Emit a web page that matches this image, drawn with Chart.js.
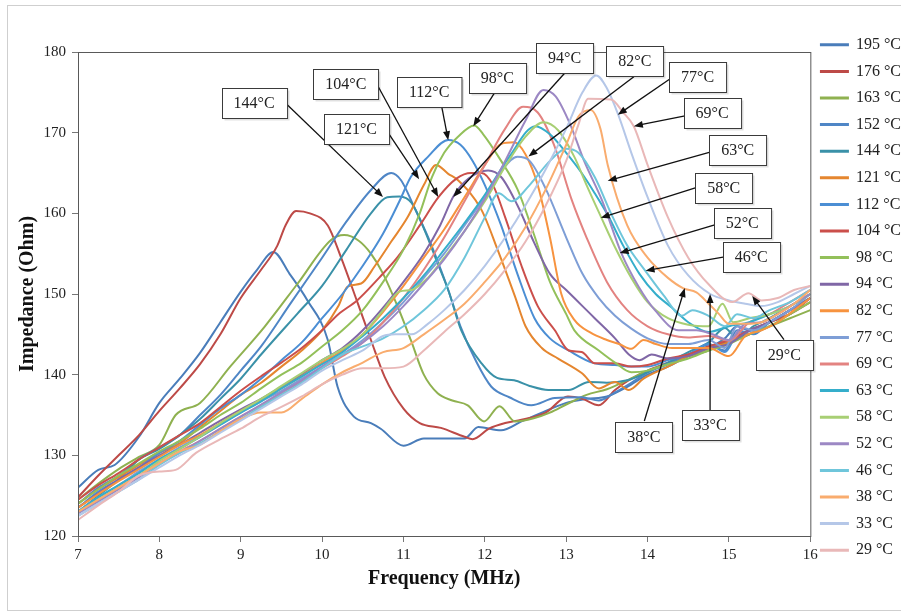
<!DOCTYPE html>
<html>
<head>
  <title>Impedance vs Frequency</title>
  <script src="https://cdn.jsdelivr.net/npm/chart.js"></script>
  <style>
    body { margin: 0; overflow: hidden; background: #fff; }
    #frame { position: absolute; left: 7px; top: 5px; width: 1000px; height: 604px; border: 1px solid #cfcfcf; }
    #wrap { position: absolute; left: 0; top: 0; width: 915px; height: 615px; }
  </style>
</head>
<body>
  <div id="frame"></div>
  <div id="wrap"><canvas id="myChart"></canvas></div>

  <script>
    // series names (legend order)
    var temps = ['195 °C', '176 °C', '163 °C', '152 °C', '144 °C', '121 °C', '112 °C', '104 °C', '98 °C', '94 °C',
                 '82 °C', '77 °C', '69 °C', '63 °C', '58 °C', '52 °C', '46 °C', '38 °C', '33 °C', '29 °C'];

    // each series: [frequency MHz, impedance Ohm]
    var s195 = [[7,126],[7.25,128.2],[7.45,128.8],[7.75,132.3],[8,136.5],[8.25,139.5],[8.5,142.7],[8.75,146.5],[9,150.3],[9.2,153],[9.4,155.2],[9.6,152.5],[9.82,149.2],[10.07,144.3],[10.19,138.5],[10.39,134.8],[10.6,134],[10.72,133.3],[11,131.2],[11.25,132.1],[11.5,132.1],[11.75,132.1],[11.92,133.5],[12.2,133.1],[12.45,134.2],[12.75,135.5],[13,136.5],[13.25,137],[13.5,137.3],[13.75,138.5],[14,140],[14.25,141],[14.5,142.3],[14.75,143.3],[14.95,144.5],[15.1,146],[15.25,145.5],[15.5,146.5],[15.75,148],[16,149.5]];
    var s176 = [[7,124.8],[7.25,127.5],[7.5,130],[7.75,132.5],[8,135.5],[8.25,138.3],[8.5,141.3],[8.75,145],[9,149.5],[9.25,153],[9.45,156],[9.55,158.5],[9.68,160.3],[9.85,160],[10.07,158.5],[10.23,154.6],[10.44,148.8],[10.6,144.3],[10.77,139.7],[11,135.8],[11.2,134],[11.46,133.4],[11.75,132.3],[11.85,132],[12.05,133.3],[12.25,134],[12.45,134.4],[12.75,135.3],[13.02,137.3],[13.2,137],[13.4,136.2],[13.6,138.1],[13.8,139.5],[14,140.5],[14.25,141.5],[14.5,142.5],[14.75,143.5],[15,144],[15.25,145],[15.5,146.5],[15.75,147.5],[16,149]];
    var s163 = [[7,124.5],[7.25,126.5],[7.5,128.3],[7.75,129.8],[8,131.3],[8.2,135],[8.5,136.5],[8.87,141],[9.29,145.9],[9.7,151.3],[10.11,156.7],[10.27,157.3],[10.45,156.6],[10.6,155],[10.75,152.5],[10.93,148.4],[11.09,144.3],[11.25,140],[11.42,137.7],[11.6,136.8],[11.79,136.2],[11.99,134.2],[12.18,136.1],[12.37,134.2],[12.6,134.6],[12.8,135.3],[13,136.3],[13.25,137.5],[13.5,138.2],[13.75,139.3],[14,140.5],[14.25,141.3],[14.5,142.3],[14.75,143],[15,144.3],[15.25,145],[15.5,146],[15.75,147],[16,148]];
    var s152 = [[7,124],[7.25,126],[7.5,127.5],[7.75,129.5],[8,131],[8.25,132.5],[8.5,135],[8.75,137.5],[9,140.5],[9.25,143.5],[9.61,148.8],[10,154.5],[10.3,159],[10.6,162.9],[10.85,165],[10.97,164.1],[11.13,160.8],[11.3,157.1],[11.46,153],[11.55,150.5],[11.7,146],[11.9,141.5],[12.08,138.5],[12.3,137.2],[12.57,136.2],[12.86,137.1],[13.19,137.2],[13.4,136.8],[13.6,137.8],[13.8,139],[14,140.3],[14.25,141.3],[14.5,142.5],[14.75,143.7],[14.95,143],[15.1,145.5],[15.3,145],[15.5,146.5],[15.75,148],[16,149.5]];
    var s144 = [[7,123],[7.25,125],[7.5,127],[7.75,129.5],[8,130.8],[8.25,132.5],[8.5,134.5],[8.75,137],[9,139.5],[9.25,142.5],[9.7,147.6],[10,151],[10.3,155.5],[10.6,160],[10.8,162],[10.95,162.1],[11.1,161.3],[11.26,157.9],[11.42,153.8],[11.55,150.5],[11.71,145.5],[11.96,141.4],[12.15,139.6],[12.36,139.3],[12.55,138.6],[12.78,138.1],[13.03,138.1],[13.28,139.1],[13.5,139],[13.75,139.3],[14,140.3],[14.25,141.5],[14.5,142.8],[14.75,144],[14.95,145.8],[15.1,144.5],[15.3,146],[15.5,147],[15.75,148.5],[16,150]];
    var s121 = [[7,124],[7.25,125.8],[7.5,127.3],[7.75,128.8],[8,130.3],[8.25,131.5],[8.5,133.5],[8.75,135.5],[9,137.5],[9.25,139],[9.5,141],[9.75,143],[10,145.5],[10.2,148.5],[10.31,150.9],[10.48,151.3],[10.65,153.5],[10.85,156.5],[11.05,159.5],[11.25,163.5],[11.4,166],[11.55,164.9],[11.67,164.1],[11.96,160.4],[12.16,155.4],[12.37,149.7],[12.5,146],[12.7,143.3],[12.9,142],[13.19,140.2],[13.4,138.3],[13.6,139.1],[13.77,138.1],[13.95,139.5],[14.25,141],[14.5,142.3],[14.75,143.3],[15,144],[15.25,145.5],[15.5,146.5],[15.75,148],[16,149.5]];
    var s112 = [[7,123.5],[7.25,125.5],[7.5,127],[7.75,128.5],[8,130.3],[8.25,131.8],[8.5,133.8],[8.75,135.8],[9,137.5],[9.25,139.5],[9.5,141.8],[9.75,144],[10,147],[10.25,150],[10.5,153.5],[10.75,157.5],[10.95,161.5],[11.09,164.5],[11.3,167],[11.55,169.1],[11.7,168.5],[11.85,166.5],[12,163.5],[12.2,158.5],[12.4,152.5],[12.61,147],[12.8,144.5],[13.03,143],[13.35,141.4],[13.6,141.2],[13.8,141],[14,141],[14.25,141.8],[14.5,142.5],[14.75,143.8],[14.95,142.8],[15.1,145],[15.3,145.5],[15.5,146.5],[15.75,148],[16,149.5]];
    var s104 = [[7,124.5],[7.25,126.3],[7.5,127.8],[7.75,129.5],[8,131],[8.25,132.5],[8.5,134],[8.75,136],[9,138],[9.25,139.8],[9.5,141.5],[9.75,143.3],[10,145.5],[10.2,147.5],[10.43,149.2],[10.7,152],[10.93,154.6],[11.2,158.5],[11.43,162],[11.65,164.3],[11.83,165],[11.96,165],[12.1,163.5],[12.25,159.5],[12.45,153.5],[12.65,148.5],[12.86,145.5],[13.03,143],[13.19,142.8],[13.35,141.4],[13.6,141.4],[13.8,141],[14,141.2],[14.25,142],[14.5,142.5],[14.75,143.5],[15,144.3],[15.25,145.5],[15.5,146.5],[15.75,147.5],[16,149.5]];
    var s98 = [[7,124],[7.25,125.8],[7.5,127.5],[7.75,129],[8,130.5],[8.25,131.8],[8.5,133.3],[8.75,135],[9,136.5],[9.25,138.3],[9.5,140],[9.75,141.5],[10,143.5],[10.25,145.5],[10.5,148],[10.75,151.5],[11,155.5],[11.2,160],[11.35,164.5],[11.5,167.5],[11.67,169.5],[11.87,170.9],[11.98,169.8],[12.2,166.5],[12.4,163],[12.6,157.5],[12.8,151.5],[13,147.5],[13.1,145.5],[13.4,143],[13.6,141.5],[13.8,140.3],[14,140.5],[14.25,141.3],[14.5,142],[14.75,143],[15,143.8],[15.25,145],[15.5,146],[15.75,147.5],[16,149]];
    var s94 = [[7,123.5],[7.25,125.3],[7.5,127],[7.75,128.5],[8,130],[8.25,131.3],[8.5,132.8],[8.75,134.3],[9,135.7],[9.25,137],[9.5,138.5],[9.75,140],[10,141.8],[10.25,143.3],[10.5,145.5],[10.75,148.3],[11,151.5],[11.25,155],[11.45,158.5],[11.62,162.2],[11.8,164.3],[12.04,165.3],[12.2,164.5],[12.4,161],[12.6,156.5],[12.8,152.5],[13,150.5],[13.2,148.5],[13.35,147],[13.6,144.5],[13.77,142.5],[13.9,141.8],[14.05,142.5],[14.25,142],[14.5,142.3],[14.75,143.3],[15,143.8],[15.25,145.5],[15.5,146.5],[15.75,148],[16,149.5]];
    var s82 = [[7,123.5],[7.25,125.2],[7.5,126.8],[7.75,128.3],[8,129.8],[8.25,131.3],[8.5,132.5],[8.75,134],[9,135.5],[9.25,136.8],[9.5,138.3],[9.75,139.8],[10,141.5],[10.25,143],[10.5,145],[10.75,147.8],[11,151],[11.25,154.5],[11.5,158],[11.75,162],[12,166],[12.2,168.6],[12.36,168.8],[12.5,167.3],[12.65,163.5],[12.8,157],[12.94,150],[13.1,146.8],[13.3,145.2],[13.5,144.3],[13.65,143.8],[13.8,143.2],[13.95,144.3],[14.1,143.8],[14.3,143.3],[14.5,143.3],[14.75,143.3],[15,142.3],[15.2,144.8],[15.4,145.5],[15.6,146.5],[15.8,148],[16,149.5]];
    var s77 = [[7,123],[7.25,124.8],[7.5,126.3],[7.75,128],[8,129.5],[8.25,131],[8.5,132.3],[8.75,133.8],[9,135.3],[9.25,136.7],[9.5,138],[9.75,139.5],[10,141],[10.25,142.5],[10.5,144.3],[10.75,146.5],[11,149],[11.25,152],[11.5,155],[11.75,158.5],[12,162],[12.2,165.2],[12.4,167],[12.55,166.5],[12.75,163],[13,157],[13.2,152.5],[13.4,149.5],[13.6,147.3],[13.8,145.7],[14,144.5],[14.25,143.8],[14.5,143.8],[14.75,144.3],[14.95,143.3],[15.1,146],[15.3,145.5],[15.5,146.5],[15.75,148],[16,150]];
    var s69 = [[7,123],[7.25,124.5],[7.5,126],[7.75,127.5],[8,129],[8.25,130.5],[8.5,131.8],[8.75,133.3],[9,134.8],[9.25,136.2],[9.5,137.7],[9.75,139.2],[10,140.8],[10.25,142.3],[10.5,144],[10.75,146.5],[11,149.5],[11.25,153],[11.5,157],[11.75,161.5],[12,166],[12.25,170.5],[12.47,173.2],[12.65,172.5],[12.85,168.5],[13.07,161.6],[13.25,157],[13.5,151.5],[13.75,148],[14,146],[14.25,145],[14.5,144.6],[14.75,144.8],[15,144.2],[15.25,146.5],[15.5,147.5],[15.75,149],[16,150.5]];
    var s63 = [[7,123],[7.25,124.8],[7.5,126.3],[7.75,127.8],[8,129.5],[8.25,130.8],[8.5,132.3],[8.75,133.8],[9,135.3],[9.25,136.7],[9.5,138.3],[9.75,139.8],[10,141.3],[10.25,142.8],[10.5,144.8],[10.75,147],[11,149.5],[11.25,152.3],[11.5,155.5],[11.75,158.8],[12,162.3],[12.3,167],[12.62,170.8],[12.8,169.8],[13,167.5],[13.19,165],[13.35,162.5],[13.52,159.6],[13.7,156],[13.9,152.5],[14.1,150],[14.3,148.3],[14.5,146.5],[14.75,145.3],[15,146],[15.25,146.5],[15.5,147.5],[15.75,148.5],[16,150]];
    var s58 = [[7,123],[7.25,124.5],[7.5,126],[7.75,127.5],[8,129.3],[8.25,130.8],[8.5,132.3],[8.75,134],[9,135.5],[9.25,137],[9.5,138.6],[9.75,140.2],[10,141.8],[10.25,143.2],[10.5,145],[10.75,148],[10.95,150.3],[11.1,150.5],[11.3,152],[11.5,154.5],[11.75,157.8],[12,161.5],[12.25,165.8],[12.5,169.5],[12.72,171.3],[12.9,170.3],[13.1,167],[13.25,163.5],[13.43,159.5],[13.6,155.8],[13.8,152],[14,149],[14.25,147],[14.5,146.2],[14.75,146],[14.92,148.8],[15.05,146.5],[15.25,147],[15.5,147.5],[15.75,148.5],[16,150]];
    var s52 = [[7,122.8],[7.25,124.3],[7.5,125.8],[7.75,127.3],[8,129],[8.25,130.3],[8.5,131.8],[8.75,133.3],[9,134.8],[9.25,136.3],[9.5,137.8],[9.75,139.3],[10,141],[10.25,142.5],[10.5,144],[10.75,146],[11,148.5],[11.25,151.3],[11.5,154.3],[11.75,157.8],[12,161.8],[12.25,166.5],[12.5,171.5],[12.72,175.3],[12.87,174.5],[13.05,171],[13.22,166.5],[13.44,161.6],[13.68,155],[13.89,150.9],[14.09,148],[14.38,145.5],[14.6,145.5],[14.8,145],[15,144.3],[15.2,146.3],[15.4,146.5],[15.6,147.5],[15.8,148.8],[16,150]];
    var s46 = [[7,122.5],[7.25,124],[7.5,125.5],[7.75,127],[8,128.8],[8.25,130.3],[8.5,131.5],[8.75,133],[9,134.5],[9.25,136],[9.5,137.5],[9.75,139],[10,140.8],[10.25,142.5],[10.5,143.5],[10.75,144.5],[11,146],[11.25,148],[11.5,150.5],[11.75,154.5],[12,159.5],[12.17,162.5],[12.33,161.5],[12.55,163.5],[12.8,166.5],[13,168],[13.15,167.5],[13.35,164.5],[13.55,160],[13.75,156],[13.97,152.9],[14.2,149.8],[14.42,147.3],[14.55,148],[14.75,147.3],[14.95,146],[15.1,147.5],[15.3,147],[15.5,148],[15.75,149],[16,150.5]];
    var s38 = [[7,123],[7.25,124.5],[7.5,126],[7.75,127.5],[8,129],[8.25,130.5],[8.5,131.3],[8.75,133],[9,134.5],[9.25,135.3],[9.5,135.3],[9.75,137],[10,138.8],[10.25,140.3],[10.5,141.5],[10.75,142.8],[11,143.3],[11.25,145],[11.5,146.8],[11.75,148.8],[12,151.5],[12.25,154.5],[12.5,158.3],[12.75,163],[13,168.5],[13.15,172],[13.3,172.8],[13.42,170.5],[13.51,166],[13.75,158.5],[14,154.5],[14.25,152],[14.44,150.7],[14.6,150.2],[14.75,148.8],[14.87,147.6],[15,146.3],[15.2,146.3],[15.4,146.5],[15.6,147.5],[15.8,148.8],[16,150.5]];
    var s33 = [[7,122.5],[7.25,124],[7.5,125.5],[7.75,127],[8,128.5],[8.25,130],[8.5,131.3],[8.75,132.8],[9,134.3],[9.25,135.8],[9.5,137.3],[9.75,138.8],[10,140.5],[10.25,141.8],[10.5,143],[10.75,144.8],[10.9,145],[11.1,145],[11.3,146.3],[11.5,148],[11.75,150.5],[12,153.5],[12.25,157],[12.5,161],[12.75,165.5],[13,170.5],[13.2,175],[13.37,177.1],[13.5,175.5],[13.64,172.2],[13.8,167.5],[14,162],[14.25,156],[14.5,152.3],[14.77,150],[15,149.2],[15.2,148.8],[15.4,148.5],[15.6,149],[15.8,150],[16,151]];
    var s29 = [[7,122],[7.25,123.8],[7.5,125.5],[7.75,127.5],[8,128],[8.2,128.2],[8.45,130.3],[8.75,132],[9,133.3],[9.25,134.8],[9.5,136],[9.75,137.3],[10,138.8],[10.25,140],[10.5,140.8],[10.75,140.8],[11,141],[11.25,143],[11.5,145.3],[11.75,147.5],[12,150],[12.25,153],[12.5,156.5],[12.75,161],[13,166.5],[13.15,171],[13.27,174.2],[13.55,174.1],[13.7,172.5],[13.83,170.8],[14,166],[14.25,159.5],[14.5,154.5],[14.75,151.2],[15.04,149],[15.24,150.1],[15.4,149.2],[15.6,149.5],[15.8,150.5],[16,151]];

    var series = [s195, s176, s163, s152, s144, s121, s112, s104, s98, s94, s82, s77, s69, s63, s58, s52, s46, s38, s33, s29];

    var colors = ['#4A7DBA', '#BD4A47', '#8FB150', '#4F86C6', '#3A91A8', '#E5862F', '#4B8ED4', '#CB4F4B', '#93C05A', '#8067A6',
                  '#F7933F', '#7E9ED6', '#E38381', '#35AECB', '#A8CF74', '#9C88C4', '#6FC6DB', '#F9AC6E', '#B5C7E8', '#E9B8B8'];

    // call-out boxes: text, box centre (MHz, Ohm), arrow start, arrow tip
    var callouts = [
      ['144°C', 9.164, 173.72, 9.565, 173.53, 10.748, 162.04],
      ['121°C', 10.422, 170.43, 10.798, 170.19, 11.192, 164.24],
      ['104°C', 10.292, 176.07, 10.674, 176.01, 11.427, 162.04],
      ['112°C', 11.316, 175.02, 11.464, 173.55, 11.55, 169.07],
      ['98°C', 12.154, 176.82, 12.117, 174.9, 11.858, 170.8],
      ['94°C', 12.98, 179.23, 12.98, 177.37, 11.612, 162.04],
      ['82°C', 13.843, 178.86, 13.831, 176.94, 12.536, 167.05],
      ['77°C', 14.614, 176.88, 14.287, 176.75, 13.634, 172.23],
      ['69°C', 14.793, 172.44, 14.46, 172.08, 13.831, 170.81],
      ['63°C', 15.107, 167.83, 14.768, 167.58, 13.51, 164.03],
      ['58°C', 14.935, 163.18, 14.596, 163.18, 13.425, 159.45],
      ['52°C', 15.163, 158.79, 14.825, 158.58, 13.656, 155.07],
      ['46°C', 15.274, 154.63, 14.928, 154.57, 13.975, 152.89],
      ['38°C', 13.954, 132.33, 13.96, 134.25, 14.457, 150.73],
      ['33°C', 14.768, 133.75, 14.768, 135.61, 14.768, 149.99],
      ['29°C', 15.681, 142.43, 15.676, 144.34, 15.286, 149.74]
    ];

    var serif = "'Liberation Serif', 'Times New Roman', serif";

    var datasets = series.map(function(d, i) {
      return {
        label: temps[i],
        data: d,
        borderColor: colors[i],
        backgroundColor: colors[i],
        borderWidth: 2,
        pointRadius: 0,
        cubicInterpolationMode: 'monotone',
        order: series.length - i // later series on top, like Excel
      };
    });

    // frame round the plot area
    var plotBorder = {
      id: 'plotBorder',
      afterDatasetsDraw: function(chart) {
        var a = chart.chartArea, ctx = chart.ctx;
        ctx.save();
        ctx.strokeStyle = '#595959';
        ctx.lineWidth = 1;
        ctx.strokeRect(a.left + 0.5, a.top + 0.5, a.right - a.left, a.bottom - a.top);
        ctx.restore();
      }
    };

    // boxed labels with arrows
    var calloutPlugin = {
      id: 'callouts',
      afterDraw: function(chart) {
        var ctx = chart.ctx, xs = chart.scales.x, ys = chart.scales.y;
        ctx.save();
        ctx.font = '16px ' + serif;
        callouts.forEach(function(c) {
          var x1 = xs.getPixelForValue(c[3]), y1 = ys.getPixelForValue(c[4]);
          var x2 = xs.getPixelForValue(c[5]), y2 = ys.getPixelForValue(c[6]);
          var ang = Math.atan2(y2 - y1, x2 - x1);
          var len = 9, hw = 3.5;
          ctx.strokeStyle = '#111';
          ctx.fillStyle = '#111';
          ctx.lineWidth = 1.3;
          ctx.beginPath();
          ctx.moveTo(x1, y1);
          ctx.lineTo(x2 - Math.cos(ang) * len * 0.8, y2 - Math.sin(ang) * len * 0.8);
          ctx.stroke();
          ctx.beginPath();
          ctx.moveTo(x2, y2);
          ctx.lineTo(x2 - Math.cos(ang) * len + Math.sin(ang) * hw, y2 - Math.sin(ang) * len - Math.cos(ang) * hw);
          ctx.lineTo(x2 - Math.cos(ang) * len - Math.sin(ang) * hw, y2 - Math.sin(ang) * len + Math.cos(ang) * hw);
          ctx.closePath();
          ctx.fill();
        });
        callouts.forEach(function(c) {
          var cx = xs.getPixelForValue(c[1]), cy = ys.getPixelForValue(c[2]);
          var w = ctx.measureText(c[0]).width + 24, h = 30;
          var bx = Math.round(cx - w / 2) + 0.5, by = Math.round(cy - h / 2) + 0.5;
          ctx.fillStyle = 'rgba(0,0,0,0.12)';
          ctx.fillRect(bx + 2, by + 2, w, h);
          ctx.fillStyle = '#fff';
          ctx.fillRect(bx, by, w, h);
          ctx.strokeStyle = '#3a3a3a';
          ctx.lineWidth = 1;
          ctx.strokeRect(bx, by, w, h);
          ctx.fillStyle = '#222';
          ctx.textAlign = 'center';
          ctx.textBaseline = 'middle';
          ctx.fillText(c[0], cx, cy + 1);
        });
        ctx.restore();
      }
    };

    var ctx = document.getElementById('myChart').getContext('2d');
    var myChart = new Chart(ctx, {
      type: 'line',
      data: { datasets: datasets },
      options: {
        responsive: true,
        maintainAspectRatio: false,
        animation: false,
        layout: { padding: { left: 12, right: 4, top: 0, bottom: 20 } },
        plugins: {
          tooltip: { enabled: false },
          legend: {
            position: 'right',
            labels: {
              boxWidth: 27,
              boxHeight: 1,
              padding: 10.6,
              color: '#222',
              font: { family: serif, size: 16 },
              sort: function(a, b) { return a.datasetIndex - b.datasetIndex; }
            }
          }
        },
        scales: {
          x: {
            type: 'linear',
            position: 'bottom',
            min: 7,
            max: 16,
            ticks: { stepSize: 1, color: '#222', font: { family: serif, size: 15 }, padding: 4 },
            grid: { drawOnChartArea: false, tickLength: 6, color: '#777' },
            border: { color: '#595959' },
            title: { display: true, text: 'Frequency (MHz)', color: '#111', font: { family: serif, size: 20, weight: 'bold' } },
            afterFit: function(s) { s.height = 59; }
          },
          xTop: {
            type: 'linear',
            position: 'top',
            ticks: { display: false },
            grid: { display: false, drawTicks: false },
            border: { display: false },
            afterFit: function(s) { s.height = 52; }
          },
          y: {
            min: 120,
            max: 180,
            ticks: { stepSize: 10, color: '#222', font: { family: serif, size: 15 }, padding: 6 },
            grid: { drawOnChartArea: false, tickLength: 6, color: '#777' },
            border: { color: '#595959' },
            title: { display: true, text: 'Impedance (Ohm)', color: '#111', font: { family: serif, size: 20, weight: 'bold' } },
            afterFit: function(s) { s.width = 66; }
          }
        }
      },
      plugins: [plotBorder, calloutPlugin]
    });
  </script>
</body>
</html>
